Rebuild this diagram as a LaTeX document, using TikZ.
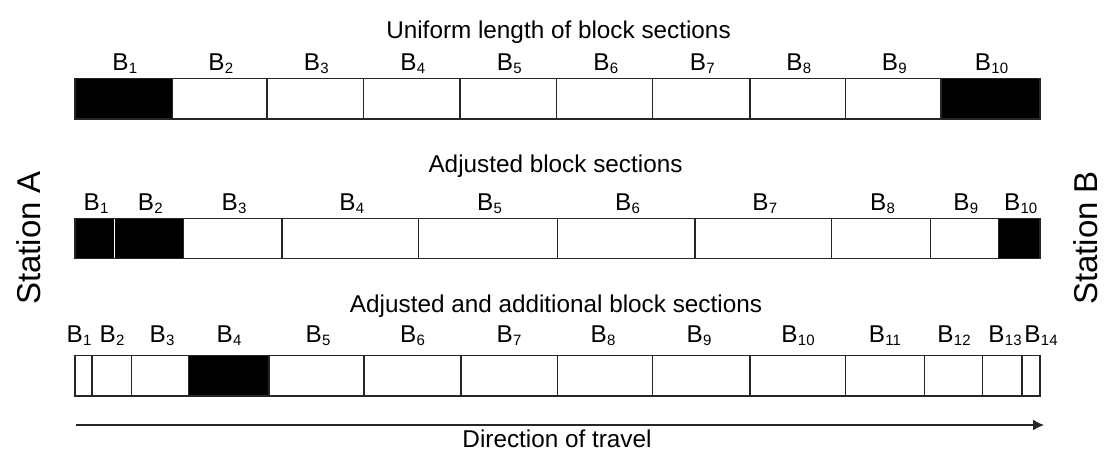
\documentclass[tikz,border=0pt]{standalone}
\usepackage{fontspec}
\setmainfont{Liberation Sans}
\usetikzlibrary{arrows.meta}

% block label: B with a lowered small index
\newcommand\bsec[1]{B\kern0.3pt\raisebox{-3.5pt}{\fontsize{15}{15}\selectfont #1}}

\begin{document}
\begin{tikzpicture}[x=1pt,y=-1pt,
  sec/.style={draw=black!85, line width=1.1pt, inner sep=0pt, outer sep=0pt,
              anchor=north west},
  lab/.style={font=\fontsize{24.3}{26}\selectfont, anchor=base, inner sep=0pt},
  ttl/.style={font=\fontsize{24.3}{26}\selectfont, anchor=base, inner sep=0pt},
  stn/.style={font=\fontsize{33}{36}\selectfont, rotate=90, inner sep=0pt}]
\useasboundingbox (0,0) rectangle (1105,453);

% uniform block sections
\node[ttl] (t1) at (558.5,38.3) {Uniform length of block sections};
\foreach \i/\a/\b/\f in {1/75/172.7/black, 2/172.7/267/white, 3/267/363.7/white,
    4/363.7/460/white, 5/460/556.7/white, 6/556.7/652.7/white, 7/652.7/750/white,
    8/750/845.7/white, 9/845.7/941/white, 10/941/1040/black}{
  \pgfmathsetmacro\w{\b-\a}
  \node[sec, fill=\f, minimum width=\w pt, minimum height=40.7pt] (ua\i) at (\a,78.3) {};
  \node[lab] (ul\i) at ({(\a+\b)/2+1},70) {\bsec{\i}};
}

% adjusted block sections
\node[ttl] (t2) at (555.5,172) {Adjusted block sections};
\foreach \i/\a/\b/\f in {1/75/114.3/black, 2/114.3/183.3/black, 3/183.3/282/white,
    4/282/418.7/white, 5/418.7/557.3/white, 6/557.3/695/white, 7/695/831.7/white,
    8/831.7/930.3/white, 9/930.3/998.3/white, 10/998.3/1040/black}{
  \pgfmathsetmacro\w{\b-\a}
  \node[sec, fill=\f, minimum width=\w pt, minimum height=40pt] (ja\i) at (\a,218.3) {};
  \node[lab] (jl\i) at ({(\a+\b)/2+1.5},210) {\bsec{\i}};
}
\draw[white, line width=1.3pt] ([yshift=-0.6pt]ja1.north east) -- ([yshift=0.6pt]ja1.south east);

% adjusted and additional block sections
\node[ttl] (t3) at (556,312) {Adjusted and additional block sections};
\foreach \i/\a/\b/\f/\lx in {1/75/92/white/79, 2/92/131.7/white/112, 3/131.7/188.7/white/162,
    4/188.7/269/black/229, 5/269/364/white/318, 6/364/461/white/412.5, 7/461/557.3/white/509,
    8/557.3/652.7/white/603, 9/652.7/750/white/699, 10/750/845.7/white/798,
    11/845.7/924.3/white/885, 12/924.3/982.7/white/954, 13/982.7/1022/white/1005,
    14/1022/1040/white/1041}{
  \pgfmathsetmacro\w{\b-\a}
  \node[sec, fill=\f, minimum width=\w pt, minimum height=40.3pt] (aa\i) at (\a,355.7) {};
  \node[lab] (al\i) at (\lx,342) {\bsec{\i}};
}

% stations at both ends
\node[stn] (sa) at (29,238) {Station A};
\node[stn] (sb) at (1086,238) {Station B};

% direction of travel
\coordinate (d0) at (76,425);
\coordinate (d1) at (1044,425);
\draw[black!85, line width=1.3pt, -{Latex[length=11pt,width=11pt]}] (d0) -- (d1);
\node[ttl] (dt) at (557,447) {Direction of travel};
\end{tikzpicture}
\end{document}
